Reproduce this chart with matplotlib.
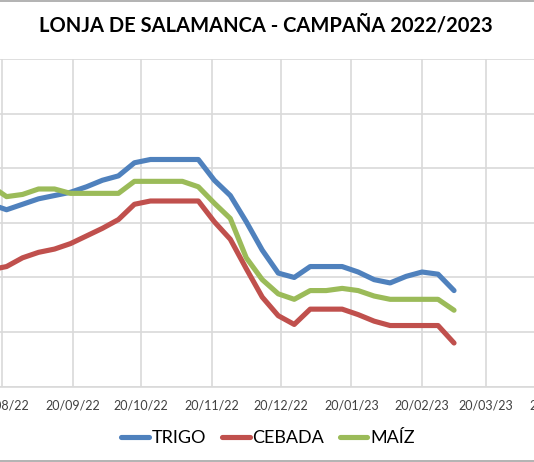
import matplotlib
matplotlib.use("Agg")
import matplotlib.pyplot as plt
import matplotlib.dates as mdates
from matplotlib.lines import Line2D
import datetime as dt

# Weekly sessions (Mondays), 15/08/2022 .. 06/03/2023
start = dt.date(2022, 8, 15)
dates = [start + dt.timedelta(weeks=i) for i in range(30)]

trigo = [317, 312, 317, 322, 325, 328, 333, 339, 343, 355,
         358, 358, 358, 358, 339, 325, 301, 275, 254, 250,
         260, 260, 260, 255, 248, 245, 251, 255, 253, 238]
cebada = [257, 260, 268, 273, 276, 281, 288, 295, 303, 317,
          320, 320, 320, 320, 301, 285, 258, 232, 215, 207,
          221, 221, 221, 216, 210, 206, 206, 206, 206, 190]
maiz = [334, 324, 326, 331, 331, 327, 327, 327, 327, 338,
        338, 338, 338, 333, 318, 304, 268, 248, 235, 230,
        238, 238, 240, 238, 233, 230, 230, 230, 230, 220]

series_names = ["TRIGO", "CEBADA", "MAÍZ"]
colors = ["#4F81BD", "#C0504D", "#9BBB59"]

W, H = 534, 462
fig = plt.figure(figsize=(W / 100, H / 100), dpi=100)
fig.patch.set_facecolor("white")

# plot area: 20/07/22 .. 20/04/23 ; 20/08/22 at x=2px, 20/03/23 at x=486px
px_per_day = (486 - 2) / 212.0
x0 = 2 - 31 * px_per_day
x1 = 2 + 243 * px_per_day
ybot = 386.7
ytop = 59.0
ax = fig.add_axes([x0 / W, (H - ybot) / H, (x1 - x0) / W, (ybot - ytop) / H])

for vals, name, c in zip([trigo, cebada, maiz], series_names, colors):
    ax.plot(dates, vals, color=c, lw=3.7, label=name,
            solid_capstyle="round", solid_joinstyle="round", zorder=3)

ax.set_xlim(dt.date(2022, 7, 20), dt.date(2023, 4, 20))
ax.set_ylim(150, 450)
ax.yaxis.set_major_locator(plt.MultipleLocator(50))
ax.xaxis.set_major_locator(mdates.MonthLocator(bymonthday=20))
ax.xaxis.set_major_formatter(mdates.DateFormatter("%d/%m/%y"))
ax.grid(True, color="#D9D9D9", lw=1.2, zorder=0)
for s in ["top", "right", "left"]:
    ax.spines[s].set_visible(False)
ax.spines["bottom"].set_color("#D9D9D9")
ax.spines["bottom"].set_linewidth(1.2)
ax.tick_params(axis="x", length=0, pad=9, labelsize=9, labelcolor="#404040")
ax.tick_params(axis="y", length=0, labelsize=9, labelcolor="#404040")
for lab in ax.get_xticklabels():
    lab.set_fontfamily("Lato")

fig.text(266 / W, 1 - 26 / H, "LONJA DE SALAMANCA - CAMPAÑA 2022/2023",
         ha="center", va="center", fontsize=14.5, fontweight="bold",
         family="Lato", color="black")

handles = [Line2D([0], [0], color=c, lw=3.7, solid_capstyle="round") for c in colors]
fig.legend(handles, series_names, loc="center", bbox_to_anchor=(268 / W, 1 - 438 / H),
           ncol=3, frameon=False, prop={"family": "Lato", "size": 13},
           handlelength=1.55, handletextpad=0.15, columnspacing=0.85)

# chart border lines visible at top and bottom
fig.add_artist(Line2D([0, 1], [1 - 0.8 / H, 1 - 0.8 / H], transform=fig.transFigure,
                      color="#A6A6A6", lw=1.2))
fig.add_artist(Line2D([0, 1], [1 - 461 / H, 1 - 461 / H], transform=fig.transFigure,
                      color="#A6A6A6", lw=1.2))

fig.savefig("out.png", dpi=100, facecolor="white")
